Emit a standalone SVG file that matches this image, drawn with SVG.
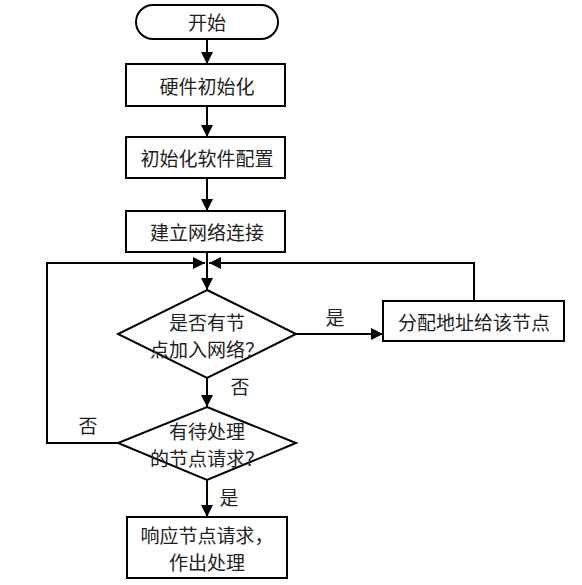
<svg xmlns="http://www.w3.org/2000/svg" width="582" height="585" viewBox="0 0 582 585">
<style>
.s{fill:#fff;stroke:#000;stroke-width:2}
.l{fill:none;stroke:#000;stroke-width:2}
.t{font-family:"Noto Sans CJK SC","Noto Sans",sans-serif;font-size:19px;fill:#222;text-anchor:middle;dominant-baseline:central}
</style>
<defs>
<marker id="a" markerUnits="userSpaceOnUse" markerWidth="12" markerHeight="12" viewBox="0 0 12 12" refX="12" refY="6" orient="auto">
<path d="M0,0 L12,6 L0,12 Z" fill="#000"/>
</marker>
</defs>
<rect width="582" height="585" fill="#fff"/>
<g id="connectors">
<line class="l" x1="207" y1="39" x2="207" y2="64" marker-end="url(#a)"/>
<line class="l" x1="207" y1="106" x2="207" y2="137" marker-end="url(#a)"/>
<line class="l" x1="207" y1="178" x2="207" y2="211" marker-end="url(#a)"/>
<line class="l" x1="207" y1="252" x2="207" y2="290" marker-end="url(#a)"/>
<line class="l" x1="296" y1="334" x2="383" y2="334" marker-end="url(#a)"/>
<polyline class="l" points="474,301 474,263 209,263" marker-end="url(#a)"/>
<polyline class="l" points="118,443 47,443 47,263 205,263" marker-end="url(#a)"/>
<line class="l" x1="207" y1="378" x2="207" y2="407" marker-end="url(#a)"/>
<line class="l" x1="207" y1="480" x2="207" y2="517" marker-end="url(#a)"/>
<text class="t" x="335" y="316">是</text>
<text class="t" x="240" y="385">否</text>
<text class="t" x="88" y="424">否</text>
<text class="t" x="229" y="496">是</text>
</g>
<g id="start">
<rect class="s" x="136" y="5" width="142" height="34" rx="17" ry="17"/>
<text class="t" x="207" y="21">开始</text>
</g>
<g id="hw-init">
<rect class="s" x="126" y="64" width="159" height="42"/>
<text class="t" x="207" y="85">硬件初始化</text>
</g>
<g id="sw-init">
<rect class="s" x="126" y="137" width="159" height="41"/>
<text class="t" x="207" y="157">初始化软件配置</text>
</g>
<g id="connect">
<rect class="s" x="126" y="211" width="159" height="41"/>
<text class="t" x="207" y="231">建立网络连接</text>
</g>
<g id="join-check">
<polygon class="s" points="207,290 296,334 207,378 118,334"/>
<text class="t" x="207" y="321">是否有节</text>
<text class="t" x="207" y="348">点加入网络？</text>
</g>
<g id="assign">
<rect class="s" x="383" y="301" width="181" height="40"/>
<text class="t" x="474" y="321">分配地址给该节点</text>
</g>
<g id="request-check">
<polygon class="s" points="207,407 296,443 207,480 118,443"/>
<text class="t" x="207" y="430">有待处理</text>
<text class="t" x="207" y="457">的节点请求？</text>
</g>
<g id="respond">
<rect class="s" x="127" y="517" width="160" height="61"/>
<text class="t" x="207" y="534">响应节点请求，</text>
<text class="t" x="207" y="561">作出处理</text>
</g>
</svg>
